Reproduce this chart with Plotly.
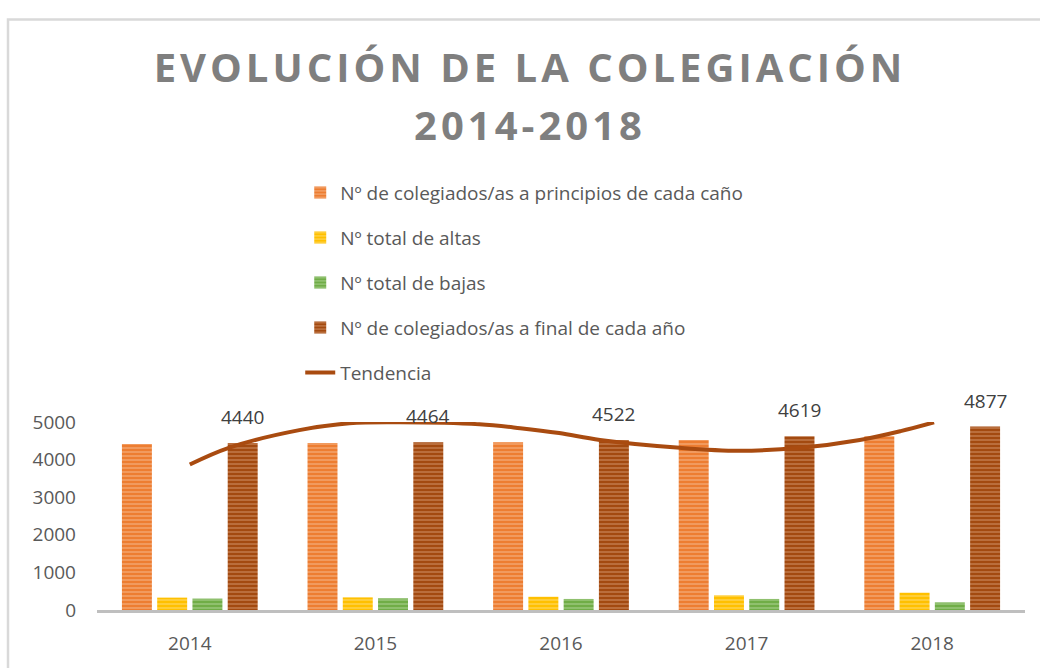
import plotly.graph_objects as go

years = ["2014", "2015", "2016", "2017", "2018"]
inicio = [4414, 4440, 4464, 4522, 4619]
altas = [329, 335, 352, 391, 460]
bajas = [303, 311, 294, 294, 202]
fin = [4440, 4464, 4522, 4619, 4877]
# trend curve (x in category-index units)
trend_x = [0.0, 0.21, 0.59, 0.86, 1.13, 1.56, 1.78, 1.99, 2.21, 2.64, 2.96, 3.29, 3.61, 3.83, 4.01]
trend_y = [3870, 4314, 4783, 4966, 4992, 4940, 4836, 4705, 4522, 4314, 4235, 4314, 4522, 4757, 4992]

names = [
    "Nº de colegiados/as a principios de cada caño",
    "Nº total de altas",
    "Nº total de bajas",
    "Nº de colegiados/as a final de cada año",
]
series = [inicio, altas, bajas, fin]
bg = ["#ED7D31", "#FFC000", "#70AD47", "#A34A10"]
fg = ["#F8C7A3", "#FFE38F", "#BFDDA8", "#DDA47C"]

BARGAP = 0.24
BARGROUPGAP = 0.15
FONT = "Open Sans"

xs = list(range(len(years)))
fig = go.Figure()
for k, (nm, vals) in enumerate(zip(names, series)):
    fig.add_trace(go.Bar(
        x=xs, y=vals, name=nm, legendgroup=f"g{k}",
        marker=dict(color=bg[k], line=dict(width=0),
                    pattern=dict(shape="-", fgcolor=fg[k], bgcolor=bg[k], size=4, solidity=0.4)),
        hoverinfo="y",
    ))

fig.add_trace(go.Scatter(
    x=trend_x, y=trend_y, name="Tendencia", legendgroup="g4", mode="lines",
    line=dict(color="#A94B10", width=4, shape="spline", smoothing=1.0),
))

slot = (1 - BARGAP) / 4
for i, v in enumerate(fin):
    fig.add_annotation(x=xs[i] + 1.5 * slot, y=v, text=str(v), showarrow=False,
                       yanchor="bottom", yshift=11,
                       font=dict(family=FONT, size=19, color="#404040"))

fig.add_shape(type="rect", xref="paper", yref="paper",
              x0=(8 - 97) / 928, x1=1.2, y0=-1.0, y1=(613.3 - 13.5) / 191,
              line=dict(color="#D9D9D9", width=2.5), layer="below")

fig.update_layout(
    width=1040, height=668,
    margin=dict(l=97, r=15, t=422, b=55),
    paper_bgcolor="white", plot_bgcolor="white",
    barmode="group", bargap=BARGAP, bargroupgap=BARGROUPGAP,
    title=dict(text="EVOLUCIÓN DE LA COLEGIACIÓN<br>2014-2018",
               x=530 / 1040, xanchor="center", xref="container",
               y=1 - 82 / 668, yanchor="top", yref="container",
               font=dict(family=FONT, size=40, color="#7F7F7F", weight="bold")),
    legend=dict(x=0.219, y=2.321, xanchor="left", yanchor="top",
                traceorder="grouped", tracegroupgap=17.3,
                font=dict(family=FONT, size=19, color="#595959"),
                bgcolor="rgba(0,0,0,0)"),
    font=dict(family=FONT, size=19, color="#595959"),
    xaxis=dict(range=[-0.5, 4.5], tickvals=xs, ticktext=years, showline=True,
               linecolor="#BFBFBF", linewidth=3, showgrid=False, zeroline=False,
               ticks="", ticklabelstandoff=14,
               tickfont=dict(family=FONT, size=19, color="#595959")),
    yaxis=dict(range=[0, 5000], dtick=1000, showgrid=False, showline=False,
               zeroline=False, ticks="", ticklabelstandoff=20,
               tickfont=dict(family=FONT, size=19, color="#595959")),
)

post = """
document.body.style.margin='0';
var gd=document.getElementById('{plot_id}');
function ls(){
  gd.querySelectorAll('.gtitle').forEach(function(e){
    e.style.letterSpacing='4px';
    var t=e.querySelectorAll('tspan.line');
    if(t.length>1){t[1].setAttribute('dy','1.45em');}
  });
}
ls(); gd.on('plotly_afterplot', ls); setTimeout(ls,50);
"""
fig.write_html("out.html", post_script=post, config={"displayModeBar": False})
